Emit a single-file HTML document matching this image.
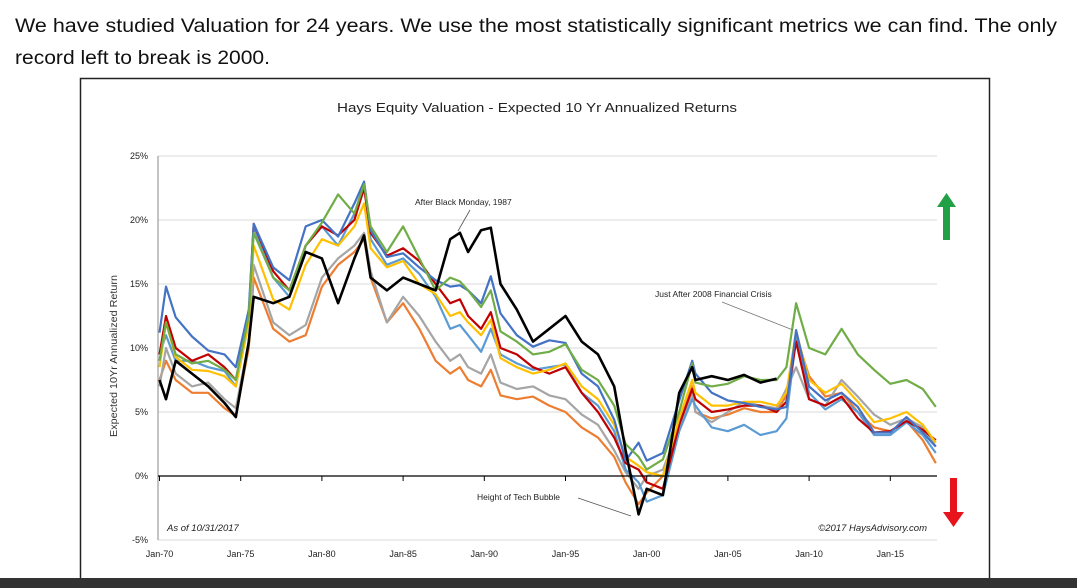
<!DOCTYPE html>
<html><head><meta charset="utf-8">
<style>
html,body{margin:0;padding:0;background:#fff;width:1077px;height:588px;overflow:hidden}
svg{display:block;font-family:"Liberation Sans",sans-serif}
</style></head>
<body>
<svg id="chart" width="1077" height="588" viewBox="0 0 1077 588">
<text x="15" y="32" font-size="19" fill="#111" textLength="1042" lengthAdjust="spacingAndGlyphs">We have studied Valuation for 24 years. We use the most statistically significant metrics we can find. The only</text>
<text x="15" y="64" font-size="19" fill="#111" textLength="255" lengthAdjust="spacingAndGlyphs">record left to break is 2000.</text>
<rect x="80.5" y="78.5" width="909" height="520" fill="#fff" stroke="#222" stroke-width="1.5"/>
<text x="537" y="112" font-size="12.5" text-anchor="middle" fill="#222" textLength="400" lengthAdjust="spacingAndGlyphs">Hays Equity Valuation - Expected 10 Yr Annualized Returns</text>
<text transform="translate(117,356) rotate(-90)" font-size="10" text-anchor="middle" fill="#333" textLength="162" lengthAdjust="spacingAndGlyphs">Expected 10Yr Annualized Return</text>
<g id="grid"></g><g id="series"></g><g id="axes"></g>
<text x="167" y="531" font-size="9.5" font-style="italic" fill="#222">As of 10/31/2017</text>
<text x="927" y="531" font-size="9.5" font-style="italic" text-anchor="end" fill="#222">©2017 HaysAdvisory.com</text>
<text x="415" y="205" font-size="8.5" fill="#222">After Black Monday, 1987</text>
<line x1="470" y1="210" x2="458" y2="231" stroke="#555" stroke-width="0.8"/>
<text x="655" y="297" font-size="8.5" fill="#222">Just After 2008 Financial Crisis</text>
<line x1="722" y1="302" x2="793" y2="330" stroke="#777" stroke-width="0.8"/>
<text x="477" y="500" font-size="8.5" fill="#222">Height of Tech Bubble</text>
<line x1="578" y1="498" x2="631" y2="516" stroke="#555" stroke-width="0.8"/>
<g><rect x="943" y="206" width="7" height="34" fill="#22a046"/><polygon points="937,207 956,207 946.5,193" fill="#22a046"/></g>
<g><rect x="950" y="478" width="7" height="35" fill="#e8141b"/><polygon points="943,512 964,512 953.5,527" fill="#e8141b"/></g>
<rect x="0" y="578" width="1077" height="10" fill="#333"/>
</svg>
<script>
const dates=[1970,1970.4,1971,1972,1973,1974,1974.7,1975.5,1975.8,1977,1978,1979,1980,1981,1982,1982.6,1983,1984,1985,1986,1987,1987.9,1988.5,1989,1989.8,1990.4,1991,1992,1993,1994,1995,1996,1997,1998,1998.7,1999.5,2000,2001,2002,2002.8,2003,2004,2005,2006,2007,2008,2008.6,2009.2,2010,2011,2012,2013,2014,2015,2016,2017,2017.8];
const yTicks=[-5,0,5,10,15,20,25];
const yTickLabels=["-5%","0%","5%","10%","15%","20%","25%"];
const xTicks=[1970,1975,1980,1985,1990,1995,2000,2005,2010,2015];
const xTickLabels=["Jan-70","Jan-75","Jan-80","Jan-85","Jan-90","Jan-95","Jan-00","Jan-05","Jan-10","Jan-15"];
const orangeVals=[7.5,9,7.5,6.5,6.5,5.3,4.7,10,15.5,11.5,10.5,11,14.8,16.5,17.5,18.5,15.5,12,13.5,11.5,9,8,8.5,7.5,7,8.3,6.3,6,6.2,5.5,5,3.8,3,1.5,-0.5,-2.2,-1.3,0,4,7,5,4.5,4.8,5.3,5,5,6.3,11,7.8,6.2,6.5,5,3.8,3.5,4.3,2.8,1.0];
const grayVals=[7,10,8,7,7.3,6,5.3,10.5,16.5,12,11,11.8,15.5,17,18,19,16,12,14,12.5,10.5,9,9.5,8.5,8,9.5,7.3,6.8,7,6.3,6,4.8,4,2,0.3,-1,0,0.5,3.8,6.5,5,4.2,5,5.8,5.5,5.3,6.8,8.5,6,5.5,7.5,6.2,4.8,4,4.5,3.8,2.3];
const lightBlueVals=[9.5,11,9,9,8.5,8.2,7,12,19.5,15.5,14,18,19.5,18,20.5,22.8,18.5,16.5,17,15.8,14,11.5,11.8,11,9.7,11.5,9.5,8.8,8.3,8.5,8.7,6.5,5.5,3.5,0.5,-0.5,-2,-1.5,3.5,6,5.5,3.8,3.5,4,3.2,3.5,4.5,10.8,6.5,5.2,6,5,3.2,3.2,4.2,3.2,1.8];
const redVals=[9.5,12.5,10,9,9.5,8.5,7.5,12.5,19.7,16,14.5,18,19.5,18.8,20,22.5,19,17.2,17.8,16.8,15,13.5,13.8,12.5,11.5,12.8,10,9.5,8.5,8,8.5,6.5,5,3,1,0.5,-0.5,-1,4,6.8,6,5,5.2,5.5,5.5,5,5.8,10.5,6,5.5,6.2,4.5,3.4,3.5,4.3,3.6,2.8];
const yellowVals=[8.5,12,9.3,8.3,8.2,7.8,7,12,18,13.8,13,16.5,18.5,18,19.5,21.3,17.8,16.3,16.8,15,14.2,12.5,12.8,12,11,12.2,9.2,8.5,8,8.3,8.8,7,6,4,1.5,0.8,0.3,0,4.5,7.5,6.5,5.5,5.5,5.8,5.8,5.5,6.5,11.3,7.5,6.5,7.2,5.8,4.2,4.5,5,4,2.6];
const blueVals=[11.2,14.8,12.4,10.9,9.8,9.5,8.5,13,19.7,16.3,15.3,19.5,20,18.7,21.3,23,19.2,17.1,17.4,16.3,15.3,14.8,14.9,14.5,13.5,15.6,12.7,11,10.1,10.6,10.4,8,7,4.4,1.2,2.6,1.2,1.8,5.9,9,8,6.5,5.9,5.7,5.4,5.2,5.4,11.4,7,5.9,6.5,5.4,3.4,3.4,4.6,3.4,2.3];
const greenVals=[9,12,9.5,8.8,9,8.3,7.5,12.5,19,15.5,14.5,18,19.8,22,20.5,22.8,19.5,17.5,19.5,17,14.5,15.5,15.2,14.5,13.2,14.5,11.3,10.5,9.5,9.7,10.3,8.3,7.5,5.5,2.5,1.5,0.5,1.3,5,8.8,7.3,7,7.2,7.8,7.5,7.5,8.5,13.5,10,9.5,11.5,9.5,8.3,7.2,7.5,6.8,5.4];
const blackVals=[7.5,6,9,8,7,5.7,4.6,10.5,14,13.5,14,17.5,17,13.5,17,18.8,15.5,14.5,15.5,15,14.5,18.5,19,17.5,19.2,19.4,15,13,10.5,11.5,12.5,10.5,9.5,7,2,-3.0,-1,-1.5,6.5,8.5,7.5,7.8,7.5,7.9,7.3,7.6,null,null,null,null,null,null,null,null,null,null,null];
const NS="http://www.w3.org/2000/svg";
const X0=159.5,PX_YR=16.24,Y0=476,PX_PCT=12.8,PLOT_L=158,PLOT_R=937;
function xScale(d){return X0+(d-1970)*PX_YR;}
function yScale(v){return Y0-v*PX_PCT;}
function mk(tag,attrs){const e=document.createElementNS(NS,tag);for(const k in attrs)e.setAttribute(k,attrs[k]);return e;}
const grid=document.getElementById('grid'),axes=document.getElementById('axes'),ser=document.getElementById('series');
yTicks.forEach((t,i)=>{
  if(t!==0){const g=mk('line',{x1:PLOT_L,x2:PLOT_R,y1:yScale(t),y2:yScale(t),stroke:'#d9d9d9','stroke-width':1});
  
  
  grid.appendChild(g);}
  const l=mk('text',{x:148,y:yScale(t)+3,'font-size':9,'text-anchor':'end',fill:'#222'});
  l.textContent=yTickLabels[i];
  
  
  axes.appendChild(l);
});
const yAx=mk('line',{x1:PLOT_L,x2:PLOT_L,y1:yScale(25),y2:yScale(-5),stroke:'#888','stroke-width':1});


axes.appendChild(yAx);
const zl=mk('line',{x1:PLOT_L,x2:PLOT_R,y1:yScale(0),y2:yScale(0),stroke:'#000','stroke-width':1.2});


axes.appendChild(zl);
xTicks.forEach((t,i)=>{
  const tk=mk('line',{x1:xScale(t),x2:xScale(t),y1:yScale(0),y2:yScale(0)+5,stroke:'#000','stroke-width':1});
  
  
  axes.appendChild(tk);
  const l=mk('text',{x:xScale(t),y:557,'font-size':9,'text-anchor':'middle',fill:'#222'});
  l.textContent=xTickLabels[i];
  
  
  axes.appendChild(l);
});
const seriesList=[['orange',orangeVals,'#ED7D31'],['gray',grayVals,'#A5A5A5'],['light-blue',lightBlueVals,'#5B9BD5'],['red',redVals,'#C00000'],['yellow',yellowVals,'#FFC000'],['blue',blueVals,'#4472C4'],['green',greenVals,'#70AD47'],['black',blackVals,'#000000']];
seriesList.forEach(s=>{
  let d='';let pen=false;
  s[1].forEach((v,i)=>{if(v===null){pen=false;return;}d+=(pen?'L':'M')+xScale(dates[i]).toFixed(1)+','+yScale(v).toFixed(1);pen=true;});
  const p=mk('path',{d:d,fill:'none',stroke:s[2],'stroke-width':s[0]==='black'?2.6:2.2,'stroke-linejoin':'round'});
  
  
  ser.appendChild(p);
});
</script>
</body></html>
